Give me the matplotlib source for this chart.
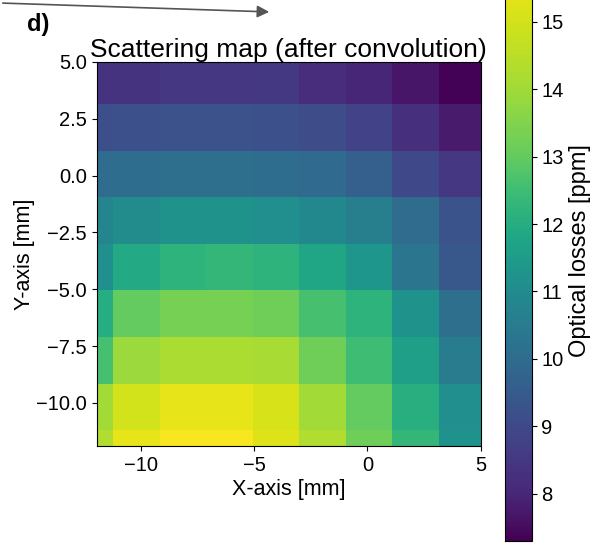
import numpy as np
import matplotlib.pyplot as plt
from matplotlib.colors import ListedColormap

plt.rcParams['font.family'] = ['Liberation Sans', 'DejaVu Sans']

# cell edges of the scan grid [mm]
x_edges = [-13.25, -11.2, -9.15, -7.1, -5.05, -3.0, -0.95, 1.1, 3.15, 5.2]
y_edges = [5.2, 3.15, 1.1, -0.95, -3.0, -5.05, -7.1, -9.15, -11.2, -13.25]

# optical losses [ppm], rows listed from top (y=5) to bottom
row_1 = [8.35, 8.35, 8.45, 8.45, 8.5, 8.15, 8.0, 7.7, 7.35]
row_2 = [9.15, 9.2, 9.25, 9.25, 9.2, 9.05, 8.8, 8.3, 7.8]
row_3 = [10.0, 10.05, 10.1, 10.1, 10.05, 9.95, 9.6, 9.0, 8.45]
row_4 = [10.8, 11.0, 11.2, 11.2, 11.1, 10.9, 10.6, 10.0, 9.3]
row_5 = [11.1, 11.9, 12.2, 12.3, 12.2, 11.8, 11.3, 10.3, 9.4]
row_6 = [12.0, 13.0, 13.3, 13.3, 13.2, 12.6, 12.2, 11.2, 10.1]
row_7 = [12.6, 13.9, 14.2, 14.2, 14.1, 13.2, 12.5, 11.6, 10.5]
row_8 = [14.0, 15.0, 15.4, 15.4, 15.1, 14.0, 13.0, 12.1, 11.1]
row_9 = [14.3, 15.4, 15.75, 15.75, 15.2, 14.3, 13.2, 12.3, 11.2]

losses = np.array([row_1, row_2, row_3, row_4, row_5, row_6, row_7, row_8, row_9])

vmin, vmax = 7.3, 15.9

# viridis, stretched a little to follow the tones of the printed colour bar
cb_vals = [7.3, 8, 9, 10, 11, 12, 13, 14, 15, 15.9]
cb_frac = [0.0, 0.11, 0.22, 0.35, 0.48, 0.62, 0.76, 0.86, 0.93, 1.0]
levels = np.linspace(vmin, vmax, 256)
cmap = ListedColormap(plt.cm.viridis(np.interp(levels, cb_vals, cb_frac)))

fig = plt.figure(figsize=(5.92, 5.46), dpi=100)
ax = fig.add_axes([96.7/592, 1 - 446/546, 384/592, 384/546])
cax = fig.add_axes([505/592, 1 - 541/546, 26.7/592, 580/546])

mesh = ax.pcolormesh(x_edges, y_edges, losses, cmap=cmap, vmin=vmin, vmax=vmax)
ax.set_xlim(-11.94, 5)
ax.set_ylim(-11.9, 5)
ax.set_xticks([-10, -5, 0, 5])
ax.set_yticks([5.0, 2.5, 0.0, -2.5, -5.0, -7.5, -10.0])
ax.tick_params(labelsize=14.5)
ax.set_xlabel('X-axis [mm]', fontsize=15.5, labelpad=3)
ax.set_ylabel('Y-axis [mm]', fontsize=15.5, labelpad=1)
ax.set_title('Scattering map (after convolution)', fontsize=19, pad=3)

cb = fig.colorbar(mesh, cax=cax)
cb.set_ticks([8, 9, 10, 11, 12, 13, 14, 15])
cb.ax.tick_params(labelsize=14.5)
cb.outline.set_linewidth(0.8)
cb.set_label('Optical losses [ppm]', fontsize=17, labelpad=4)

fig.text(27/592, 1 - 25/546, 'd)', fontsize=17, fontweight='bold', va='center', ha='left')
ax.annotate('', xy=(272/592, 1 - 12/546), xytext=(0, 1 - 3/546),
            xycoords='figure fraction', textcoords='figure fraction',
            arrowprops=dict(arrowstyle='-|>', color='#555555', lw=1.2,
                            mutation_scale=18))

fig.savefig('out.png')
